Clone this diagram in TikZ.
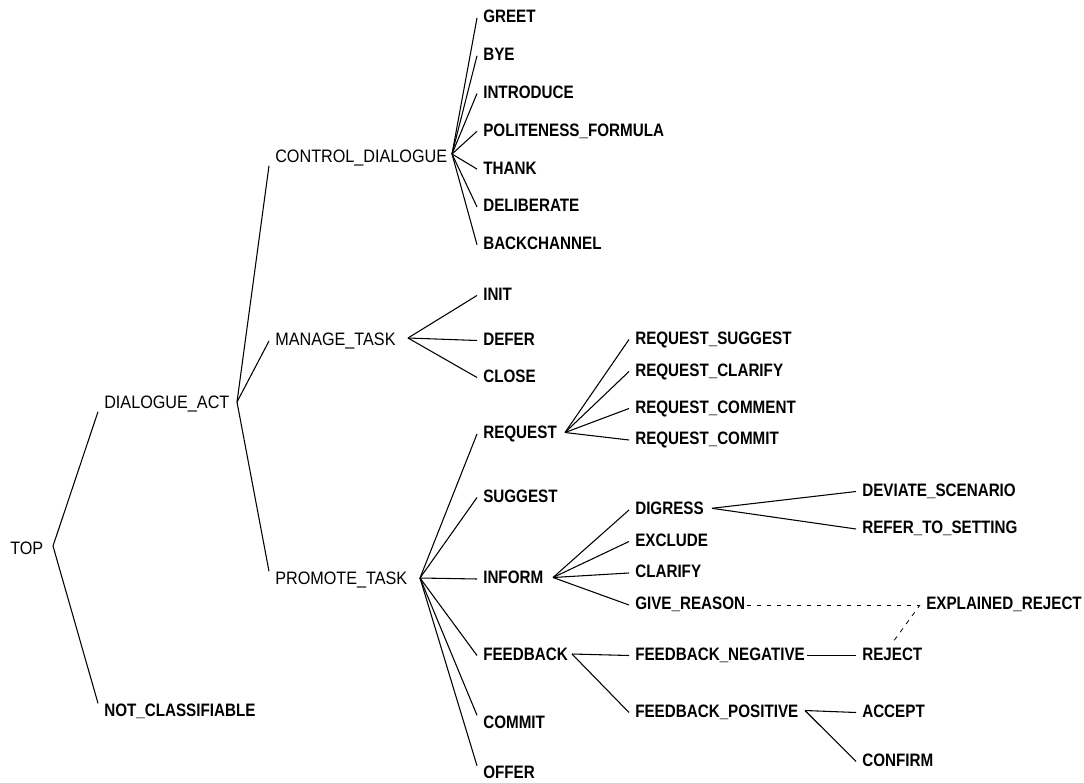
\documentclass[tikz,border=0pt]{standalone}
\usepackage{fontspec}
\newfontfamily\regf[FakeStretch=0.9]{Liberation Sans}
\newfontfamily\lsb[FakeStretch=0.845]{Liberation Sans}
\usetikzlibrary{calc}
\begin{document}
\begin{tikzpicture}[x=0.75pt,y=-0.75pt,
  lbase/.style={anchor=base west, xshift=-4.5pt, yshift=-4.84pt, inner xsep=4.5pt, inner ysep=0pt, text height=9.7pt, text depth=2.25pt},
  rl/.style={lbase, font=\regf\fontsize{13.5pt}{14pt}\selectfont},
  bl/.style={lbase, font=\lsb\bfseries\fontsize{13.5pt}{14pt}\selectfont},
  edge/.style={line width=0.8pt, black},
  dedge/.style={line width=0.6pt, black, dash pattern=on 3.5pt off 4pt}]
\fill[white] (0,0) rectangle (1084,782);
\useasboundingbox (0,0) rectangle (1084,782);

% regular nodes
\node[rl] (TOP) at (10,548) {TOP};
\node[rl] (DA) at (104,402) {DIALOGUE\_ACT};
\node[rl] (CD) at (275,156) {CONTROL\_DIALOGUE};
\node[rl] (MT) at (275,339.5) {MANAGE\_TASK};
\node[rl] (PT) at (275,578) {PROMOTE\_TASK};

% bold nodes
\node[bl] (NC) at (104,710) {NOT\_CLASSIFIABLE};
\node[bl] (GREET) at (483,16.5) {GREET};
\node[bl] (BYE) at (483,54.3) {BYE};
\node[bl] (INTRO) at (483,92) {INTRODUCE};
\node[bl] (POL) at (483,129.8) {POLITENESS\_FORMULA};
\node[bl] (THANK) at (483,167.6) {THANK};
\node[bl] (DELIB) at (483,205.4) {DELIBERATE};
\node[bl] (BACK) at (483,243.2) {BACKCHANNEL};
\node[bl] (INIT) at (483,294) {INIT};
\node[bl] (DEFER) at (483,339) {DEFER};
\node[bl] (CLOSE) at (483,376) {CLOSE};
\node[bl] (REQ) at (483,432.5) {REQUEST};
\node[bl] (SUG) at (483,496) {SUGGEST};
\node[bl] (INF) at (483,577.5) {INFORM};
\node[bl] (FB) at (483,654) {FEEDBACK};
\node[bl] (COMMIT) at (483,722) {COMMIT};
\node[bl] (OFFER) at (483,772.5) {OFFER};
\node[bl] (RS) at (635,338) {REQUEST\_SUGGEST};
\node[bl] (RCL) at (635,370) {REQUEST\_CLARIFY};
\node[bl] (RCM) at (635,407) {REQUEST\_COMMENT};
\node[bl] (RCT) at (635,438.5) {REQUEST\_COMMIT};
\node[bl] (DIG) at (635,508.5) {DIGRESS};
\node[bl] (EXC) at (635,540) {EXCLUDE};
\node[bl] (CLA) at (635,571.5) {CLARIFY};
\node[bl] (GIVE) at (635,603.5) {GIVE\_REASON};
\node[bl] (FN) at (635,654) {FEEDBACK\_NEGATIVE};
\node[bl] (FP) at (635,711) {FEEDBACK\_POSITIVE};
\node[bl] (DS) at (862,490) {DEVIATE\_SCENARIO};
\node[bl] (RTS) at (862,527.5) {REFER\_TO\_SETTING};
\node[bl] (REJ) at (862,654) {REJECT};
\node[bl] (ACC) at (862,711) {ACCEPT};
\node[bl] (CONF) at (862,760) {CONFIRM};
\node[bl] (EXPL) at (926,603.5) {EXPLAINED\_REJECT};

% fan points
\coordinate (TOPf) at (53,546);
\coordinate (DAf) at (237,402);
\coordinate (CDf) at (452,154);
\coordinate (MTf) at (408,338);
\coordinate (PTf) at (420,578);
\coordinate (REQf) at (565,432.5);
\coordinate (INFf) at (553,577.5);
\coordinate (FBf) at (572,654);
\coordinate (DIGf) at (712,508.3);
\coordinate (FPf) at (805,710.5);

% edges
\draw[edge] (TOPf) -- (DA.south west);
\draw[edge] (TOPf) -- (NC.north west);
\draw[edge] (DAf) -- (CD.south west);
\draw[edge] (DAf) -- (MT.west);
\draw[edge] (DAf) -- (PT.north west);
\foreach \c in {GREET,BYE,INTRO,POL,THANK,DELIB,BACK}
  \draw[edge] (CDf) -- (\c.west);
\foreach \c in {INIT,DEFER,CLOSE}
  \draw[edge] (MTf) -- (\c.west);
\foreach \c in {REQ,SUG,INF,FB}
  \draw[edge] (PTf) -- (\c.west);
\draw[edge] (PTf) -- (COMMIT.north west);
\draw[edge] (PTf) -- (OFFER.north west);
\foreach \c in {RS,RCL,RCM,RCT}
  \draw[edge] (REQf) -- (\c.west);
\foreach \c in {DIG,EXC,CLA,GIVE}
  \draw[edge] (INFf) -- (\c.west);
\foreach \c in {FN,FP}
  \draw[edge] (FBf) -- (\c.west);
\foreach \c in {DS,RTS}
  \draw[edge] (DIGf) -- (\c.west);
\draw[edge] ([xshift=-3pt]FN.east) -- (REJ.west);
\foreach \c in {ACC,CONF}
  \draw[edge] (FPf) -- (\c.west);

% dashed
\draw[dedge] ([xshift=-3.5pt]GIVE.east) -- (EXPL.west);
\draw[dedge] ($(REJ.north)+(2,-7)$) -- (EXPL.west);
\end{tikzpicture}
\end{document}
